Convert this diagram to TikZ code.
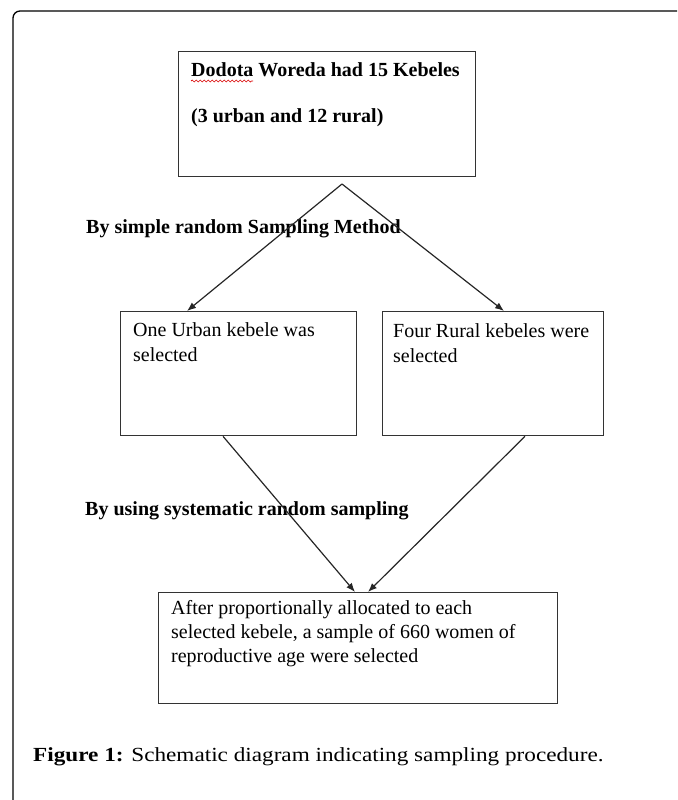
\documentclass[tikz,border=0pt]{standalone}
\usepackage{fontspec}
\setmainfont{Liberation Serif}
\newfontfamily\capfont[FakeStretch=1.16]{Liberation Serif}
\usetikzlibrary{arrows.meta,calc,decorations.pathmorphing}
\begin{document}
\begin{tikzpicture}[x=1pt,y=-1pt,
  box/.style={draw=black!80, line width=1.3pt, inner sep=0pt, anchor=north west},
  txt/.style={anchor=base west, inner sep=0pt, font=\fontsize{20}{25}\selectfont},
  btxt/.style={anchor=base west, inner sep=0pt, font=\fontsize{20}{25}\selectfont\bfseries},
  arr/.style={draw=black!85, line width=1.2pt, -{Latex[length=9pt,width=7pt]}},
  frame/.style={draw=black, line width=1.3pt, rounded corners=7pt},
]
\useasboundingbox (0,0) rectangle (677,800);
\draw[frame] (13,800) -- (13,11) -- (677,11);

\node[box, minimum width=297pt, minimum height=125pt] (top) at (178,51) {};
\node[box, minimum width=236pt, minimum height=124pt] (lbox) at (120,311) {};
\node[box, minimum width=221pt, minimum height=124pt] (rbox) at (382,311) {};
\node[box, minimum width=399pt, minimum height=111pt] (bbox) at (158,592) {};

\node[btxt] (t1) at (191,77) {Dodota Woreda had 15 Kebeles};
\node[btxt] (t2) at (191,122) {(3 urban and 12 rural)};
\draw[red!85!black, line width=0.7pt, decorate, decoration={snake, amplitude=1pt, segment length=4pt}] ($(t1.base west)+(0,4)$) -- ($(t1.base west)+(62,4)$);

\node[btxt] (lab1) at (86,233) {By simple random Sampling Method};
\node[txt] (l1) at (133,336) {One Urban kebele was};
\node[txt] (l2) at (133,361) {selected};
\node[txt] (r1) at (393,337) {Four Rural kebeles were};
\node[txt] (r2) at (393,362) {selected};
\node[btxt] (lab2) at (85,515) {By using systematic random sampling};
\node[txt] (b1) at (171,614) {After proportionally allocated to each};
\node[txt] (b2) at (171,638) {selected kebele, a sample of 660 women of};
\node[txt] (b3) at (171,662) {reproductive age were selected};

\coordinate (apex) at (342,184);
\draw[arr] (apex) -- ($(lbox.north west)+(67,0)$);
\draw[arr] (apex) -- ($(rbox.north west)+(122,0)$);
\draw[arr] ($(lbox.south west)+(103,0)$) -- ($(bbox.north west)+(197,0)$);
\draw[arr] ($(rbox.south west)+(143,0)$) -- ($(bbox.north west)+(210,0)$);

\node[anchor=base west, inner sep=0pt, font=\capfont\fontsize{20}{24}\selectfont] (cap) at (33,761) {\textbf{Figure 1:} Schematic diagram indicating sampling procedure.};
\end{tikzpicture}
\end{document}
